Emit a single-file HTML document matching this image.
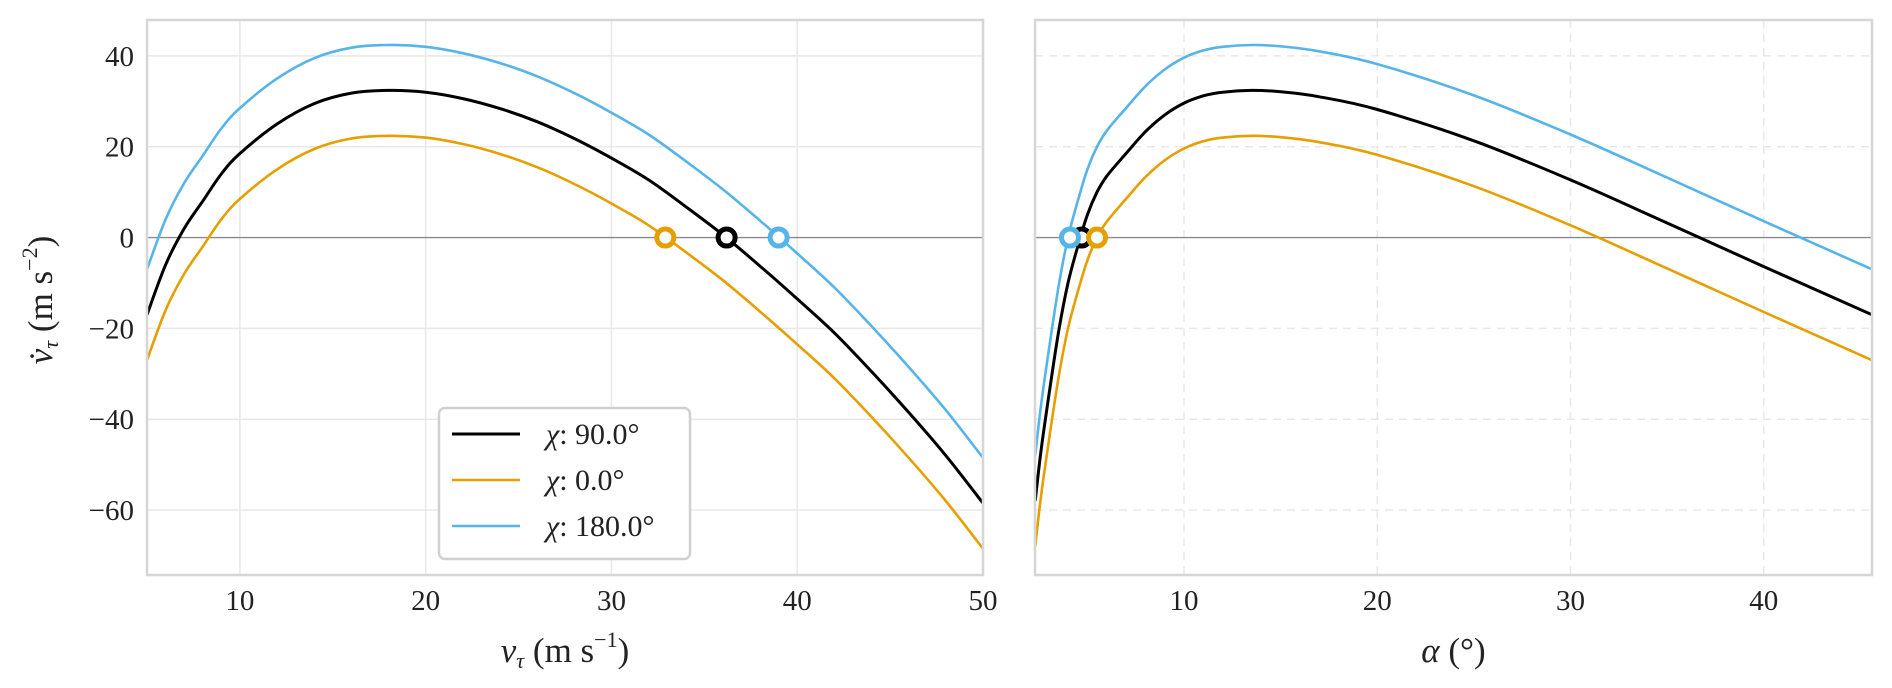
<!DOCTYPE html>
<html><head><meta charset="utf-8"><style>
html,body{margin:0;padding:0;background:#fff;}
svg{display:block;}
text{font-family:"Liberation Serif","DejaVu Serif",serif;fill:#222;}
</style></head><body>
<svg id="chart" width="1892" height="688" viewBox="0 0 1892 688" xmlns="http://www.w3.org/2000/svg"></svg>
<script>
// ---- data ----
const leftX = [5,6,7,8,9,10,12,14,16,18,20,22,24,26,28,30,32,34,36,38,40,42,44,46,48,50];
const leftBlack = [-17,-6,2,8,14,18.5,25,29.5,31.8,32.4,32,30.6,28.4,25.5,21.8,17.5,12.7,6.8,0.6,-6.3,-13.5,-21,-29.5,-38.5,-48,-58.5];
const leftOrange = [-27,-16,-8,-2,4,8.5,15,19.5,21.8,22.4,22,20.6,18.4,15.5,11.8,7.5,2.7,-3.2,-9.4,-16.3,-23.5,-31,-39.5,-48.5,-58,-68.5];
const leftBlue = [-7,4,12,18,24,28.5,35,39.5,41.8,42.4,42,40.6,38.4,35.5,31.8,27.5,22.7,16.8,10.6,3.7,-3.5,-11,-19.5,-28.5,-38,-48.5];
const rightX = [2.3,2.6,3,3.5,4,4.5,5,5.5,6,7,8,9,10,11,12,13.5,15,17,20,25,30,35,40,45.6];
const rightBlack = [-58,-47,-35,-21,-10,-2,5,10,13.5,18.5,23.3,27,29.6,31.2,32,32.4,32.1,31,28.2,21.3,12.7,3.2,-6.4,-17];
const rightOrange = [-68,-57,-45,-31,-20,-12,-5,0,3.5,8.5,13.3,17,19.6,21.2,22,22.4,22.1,21,18.2,11.3,2.7,-6.8,-16.4,-27];
const rightBlue = [-48,-37,-25,-11,0,8,15,20,23.5,28.5,33.3,37,39.6,41.2,42,42.4,42.1,41,38.2,31.3,22.7,13.2,3.6,-7];
const leftRoots = [36.2,32.9,39.0];   // black, orange, blue
const rightRoots = [4.7,5.5,4.1];
const seriesNames = ["χ: 90.0°","χ: 0.0°","χ: 180.0°"];
const leftXTicks = [10,20,30,40,50];
const rightXTicks = [10,20,30,40];
const yTicks = [40,20,0,-20,-40,-60];

const colors = ["#000000","#E69F00","#56B4E9"];
const NS = "http://www.w3.org/2000/svg";
const svg = document.getElementById('chart');
function el(tag, attrs, parent){ const e=document.createElementNS(NS,tag); for(const k in attrs) e.setAttribute(k,attrs[k]); (parent||svg).appendChild(e); return e; }

const Y0=20, Y1=575, yMin=-74.3, yMax=47.9;
const yS = v => Y0 + (yMax - v)/(yMax - yMin)*(Y1-Y0);

function smoothPath(pts){
  let d = 'M'+pts[0][0].toFixed(1)+','+pts[0][1].toFixed(1);
  for(let i=0;i<pts.length-1;i++){
    const p0=pts[Math.max(i-1,0)], p1=pts[i], p2=pts[i+1], p3=pts[Math.min(i+2,pts.length-1)];
    const c1=[p1[0]+(p2[0]-p0[0])/6, p1[1]+(p2[1]-p0[1])/6];
    const c2=[p2[0]-(p3[0]-p1[0])/6, p2[1]-(p3[1]-p1[1])/6];
    d += ' C'+c1[0].toFixed(1)+','+c1[1].toFixed(1)+' '+c2[0].toFixed(1)+','+c2[1].toFixed(1)+' '+p2[0].toFixed(1)+','+p2[1].toFixed(1);
  }
  return d;
}

function panel(name, X0, X1, xMin, xMax, xTicks, xs, series, roots, dashed, showY, xlabel){
  const xS = v => X0 + (v-xMin)/(xMax-xMin)*(X1-X0);
  const g = el('g',{});
  
  
  const clipId = name+'-clip';
  const cp = el('clipPath',{id:clipId},g); el('rect',{x:X0,y:Y0,width:X1-X0,height:Y1-Y0},cp);
  xTicks.forEach(t=>{
    const l = el('line',{x1:xS(t),x2:xS(t),y1:Y0,y2:Y1,stroke:'#e8e8e8','stroke-width':1.5,'stroke-dasharray':dashed?'8,6':'none'},g);
    
    
    const tx = el('text',{x:xS(t),y:610,'text-anchor':'middle','font-size':29},g);
    tx.textContent=t;
    
    
  });
  yTicks.forEach(t=>{
    if(t!==0){
      const l = el('line',{x1:X0,x2:X1,y1:yS(t),y2:yS(t),stroke:'#e8e8e8','stroke-width':1.5,'stroke-dasharray':dashed?'8,6':'none'},g);
      
      
    }
    if(showY){
      const tx = el('text',{x:134,y:yS(t)+10,'text-anchor':'end','font-size':29},g);
      tx.textContent = t<0 ? '−'+(-t) : t;
      
      
    }
  });
  const zl = el('line',{x1:X0,x2:X1,y1:yS(0),y2:yS(0),stroke:'#8a8a8a','stroke-width':1.3},g);
  
  
  series.forEach((vals,i)=>{
    const pts = vals.map((v,j)=>[xS(xs[j]), yS(v)]);
    const p = el('path',{d:smoothPath(pts),fill:'none',stroke:colors[i],'stroke-width':i===0?3:2.6,'clip-path':'url(#'+clipId+')','stroke-linejoin':'round'},g);
    
    
  });
  roots.forEach((r,i)=>{
    const c = el('circle',{cx:xS(r),cy:yS(0),r:8.5,fill:'#fff',stroke:colors[i],'stroke-width':5},g);
    
    
  });
  const fr = el('rect',{x:X0,y:Y0,width:X1-X0,height:Y1-Y0,fill:'none',stroke:'#d6d6d6','stroke-width':2.5},g);
  
  
  const xl = el('text',{x:(X0+X1)/2,y:662,'text-anchor':'middle','font-size':35},g);
  xl.innerHTML = xlabel;
  
  
  return xS;
}

panel('left-panel',147,983,5,50,leftXTicks,leftX,[leftBlack,leftOrange,leftBlue],leftRoots,false,true,
  '<tspan font-style="italic">v</tspan><tspan font-style="italic" font-size="22" dy="6">τ</tspan><tspan dy="-6">  (m s</tspan><tspan font-size="22" dy="-15">−1</tspan><tspan dy="15">)</tspan>');
panel('right-panel',1035,1872,2.29,45.6,rightXTicks,rightX,[rightBlack,rightOrange,rightBlue],rightRoots,true,false,
  '<tspan font-style="italic">α</tspan>  (°)');

// y axis title
const yl = el('text',{x:0,y:0,'text-anchor':'middle','font-size':35,transform:'translate(52,300) rotate(-90)'});
yl.innerHTML='<tspan font-style="italic">v̇</tspan><tspan font-style="italic" font-size="22" dy="6">τ</tspan><tspan dy="-6">   (m s</tspan><tspan font-size="22" dy="-15">−2</tspan><tspan dy="15">)</tspan>';



// legend
const lg = el('g',{});


el('rect',{x:439,y:408,width:251,height:151,rx:6,fill:'#fff',stroke:'#d0d0d0','stroke-width':2.5},lg);
seriesNames.forEach((n,i)=>{
  const yy = 434 + i*46;
  const ln = el('line',{x1:452,x2:520,y1:yy,y2:yy,stroke:colors[i],'stroke-width':i===0?3:2.6},lg);
  
  
  const t = el('text',{x:546,y:yy+10,'font-size':30},lg);
  t.innerHTML = '<tspan font-style="italic">χ</tspan>'+n.slice(1);
  
  
});
</script>
</body></html>
